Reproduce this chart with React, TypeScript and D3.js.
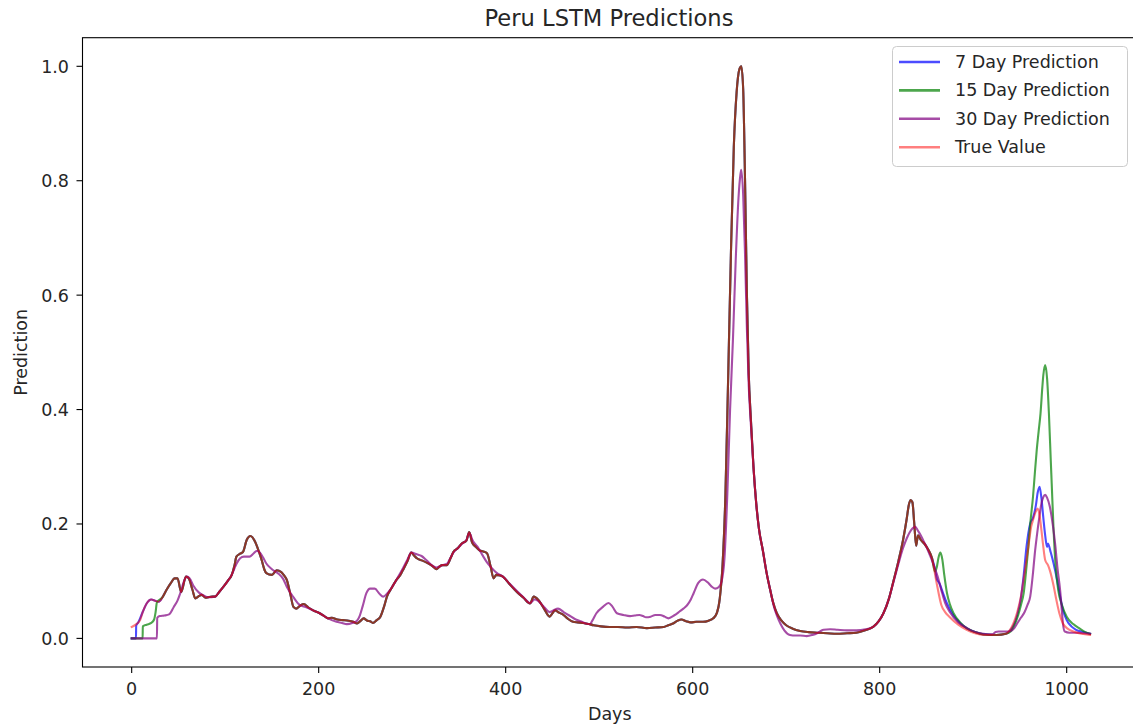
import React from "react";
import * as d3 from "d3";

type Pt = [number, number];

// Stretch of the curve where the true value, 7-day and 15-day predictions coincide
const sharedTrace: Pt[] = [
  [29, 0.064], [33, 0.072], [37, 0.084], [42, 0.097], [46, 0.105], [49, 0.105], [53, 0.081],
  [58, 0.108], [61, 0.105], [65, 0.085], [68, 0.070], [72, 0.074], [75, 0.076], [79, 0.071],
  [82, 0.072], [86, 0.073], [89, 0.073], [94, 0.082], [98, 0.090], [103, 0.101], [107, 0.111],
  [110, 0.128], [112, 0.143], [116, 0.148], [119, 0.151], [123, 0.172], [127, 0.179],
  [132, 0.169], [136, 0.152], [139, 0.137], [142, 0.120], [144, 0.114], [150, 0.111],
  [155, 0.119], [160, 0.116], [163, 0.110], [166, 0.102], [170, 0.075], [173, 0.055],
  [176, 0.052], [180, 0.057], [184, 0.060], [189, 0.054], [194, 0.049], [201, 0.044],
  [206, 0.039], [210, 0.035], [214, 0.036], [220, 0.033], [226, 0.032], [232, 0.031],
  [237, 0.029], [241, 0.026], [245, 0.031], [248, 0.035], [252, 0.031], [255, 0.030],
  [258, 0.027], [262, 0.032], [266, 0.038], [270, 0.056], [273, 0.073], [278, 0.088],
  [283, 0.102], [287, 0.110], [290, 0.119], [295, 0.135], [299, 0.150], [302, 0.145],
  [305, 0.140], [311, 0.136], [317, 0.131], [322, 0.126], [326, 0.121], [329, 0.125],
  [332, 0.128], [337, 0.128], [341, 0.140], [344, 0.151], [349, 0.158], [353, 0.166],
  [358, 0.171], [361, 0.186], [364, 0.168], [368, 0.160], [372, 0.154], [376, 0.152],
  [380, 0.149], [384, 0.125], [387, 0.105], [390, 0.111], [394, 0.110], [397, 0.108],
  [404, 0.095], [412, 0.081], [419, 0.071], [426, 0.061], [430, 0.073], [435, 0.067],
  [441, 0.052], [447, 0.038], [450, 0.044], [453, 0.049], [457, 0.045], [461, 0.042],
  [466, 0.035], [472, 0.029], [477, 0.028], [483, 0.027], [489, 0.025], [494, 0.023],
  [502, 0.021], [511, 0.020], [520, 0.020], [530, 0.019], [540, 0.020], [551, 0.018],
  [560, 0.019], [569, 0.020], [574, 0.023], [579, 0.026], [584, 0.031], [588, 0.033],
  [593, 0.030], [598, 0.028], [604, 0.029], [611, 0.029], [617, 0.031], [622, 0.035],
  [626, 0.045], [629, 0.070], [632, 0.130], [635, 0.250], [638, 0.460], [641, 0.680],
  [644, 0.860], [647, 0.955], [650, 0.995], [652, 1.000], [654, 0.960], [656, 0.800],
  [658, 0.600], [660, 0.460], [662, 0.390], [665, 0.300], [668, 0.235], [671, 0.190],
  [675, 0.154], [679, 0.115], [683, 0.084], [686, 0.063], [690, 0.044], [695, 0.031],
  [700, 0.023], [707, 0.017], [715, 0.013], [724, 0.011], [733, 0.010], [744, 0.009],
  [754, 0.008], [765, 0.009], [775, 0.010], [784, 0.014], [793, 0.020], [799, 0.030],
  [804, 0.044], [810, 0.070], [815, 0.102], [820, 0.135], [825, 0.172], [829, 0.210],
  [831, 0.232], [833, 0.242], [835, 0.238], [837, 0.200], [839, 0.162], [841, 0.180],
  [844, 0.172], [848, 0.165], [852, 0.155], [856, 0.140],
];

const trueHead: Pt[] = [
  [0, 0.020], [5, 0.025], [9, 0.032], [12, 0.047], [16, 0.061], [21, 0.068], [25, 0.066],
];
const trueTail: Pt[] = [
  [861, 0.096], [866, 0.058], [870, 0.046], [875, 0.037], [884, 0.024], [893, 0.015],
  [902, 0.009], [911, 0.006], [925, 0.006], [935, 0.008], [939, 0.014], [943, 0.026],
  [947, 0.045], [951, 0.073], [955, 0.115], [959, 0.160], [962, 0.195], [964, 0.207],
  [967, 0.222], [969, 0.227], [971, 0.215], [973, 0.189], [975, 0.160], [977, 0.137],
  [980, 0.128], [982, 0.119], [986, 0.092], [989, 0.067], [992, 0.045], [996, 0.026],
  [1001, 0.017], [1007, 0.012], [1016, 0.008], [1025, 0.006],
];

const sevenHead: Pt[] = [
  [0, 0], [4.6, 0], [4.8, 0.022], [7, 0.028], [9, 0.035], [12, 0.047], [16, 0.061],
  [21, 0.068], [25, 0.066],
];
const sevenTail: Pt[] = [
  [859, 0.122], [861, 0.104], [864, 0.096], [868, 0.078], [872, 0.061], [879, 0.040],
  [886, 0.027], [893, 0.018], [902, 0.011], [911, 0.007], [925, 0.006], [935, 0.008],
  [939, 0.013], [943, 0.022], [947, 0.040], [951, 0.070], [954, 0.110], [957, 0.160],
  [961, 0.201], [964, 0.211], [967, 0.232], [969, 0.255], [971, 0.265], [973, 0.245],
  [975, 0.211], [977, 0.180], [979, 0.160], [980, 0.166], [983, 0.150], [986, 0.131],
  [990, 0.100], [993, 0.073], [996, 0.050], [1000, 0.032], [1005, 0.021], [1010, 0.015],
  [1018, 0.011], [1025, 0.008],
];

const fifteenHead: Pt[] = [
  [0, 0], [11.7, 0], [11.9, 0.021], [16, 0.024], [21, 0.027], [24, 0.033], [25.5, 0.045],
  [27, 0.063],
];
const fifteenTail: Pt[] = [
  [859, 0.117], [861, 0.124], [863, 0.142], [865, 0.150], [867, 0.138], [869, 0.112],
  [872, 0.079], [875, 0.060], [879, 0.044], [886, 0.028], [893, 0.018], [902, 0.011],
  [911, 0.007], [925, 0.006], [935, 0.008], [940, 0.012], [943, 0.020], [948, 0.040],
  [951, 0.058], [954, 0.079], [957, 0.125], [959, 0.160], [961, 0.200], [964, 0.248],
  [966, 0.290], [968, 0.330], [970, 0.362], [972, 0.393], [974, 0.440], [975, 0.460],
  [977, 0.478], [979, 0.455], [981, 0.393], [983, 0.310], [984, 0.270], [986, 0.189],
  [988, 0.130], [991, 0.084], [995, 0.058], [1000, 0.038], [1007, 0.025], [1014, 0.017],
  [1020, 0.011], [1025, 0.008],
];

const thirtyDay: Pt[] = [
  [0, 0], [27, 0], [27.3, 0.036], [30, 0.039], [35, 0.040], [40, 0.042], [45, 0.055],
  [49, 0.066], [52, 0.079], [56, 0.100], [59, 0.108], [62, 0.105], [66, 0.092], [72, 0.080],
  [77, 0.075], [82, 0.072], [89, 0.073], [94, 0.082], [98, 0.090], [103, 0.101], [107, 0.111],
  [112, 0.130], [116, 0.140], [120, 0.143], [126, 0.143], [130, 0.148], [134, 0.153],
  [137, 0.150], [141, 0.140], [144, 0.131], [150, 0.121], [157, 0.113], [162, 0.104],
  [166, 0.090], [173, 0.072], [180, 0.058], [186, 0.055], [194, 0.049], [201, 0.044],
  [210, 0.035], [219, 0.029], [225, 0.027], [230, 0.025], [236, 0.027], [241, 0.031],
  [244, 0.040], [247, 0.056], [251, 0.079], [255, 0.087], [260, 0.087], [265, 0.078],
  [269, 0.073], [273, 0.078], [276, 0.084], [283, 0.102], [290, 0.122], [295, 0.138],
  [299, 0.150], [305, 0.147], [310, 0.144], [315, 0.137], [321, 0.128], [326, 0.124],
  [332, 0.128], [337, 0.130], [341, 0.141], [344, 0.150], [349, 0.158], [353, 0.165],
  [358, 0.172], [361, 0.184], [365, 0.170], [370, 0.160], [375, 0.146], [380, 0.133],
  [384, 0.125], [390, 0.115], [397, 0.108], [404, 0.096], [412, 0.083], [419, 0.072],
  [426, 0.062], [431, 0.068], [435, 0.065], [441, 0.055], [447, 0.046], [451, 0.049],
  [456, 0.052], [462, 0.046], [468, 0.040], [474, 0.034], [480, 0.030], [486, 0.026],
  [490, 0.025], [493, 0.032], [497, 0.044], [504, 0.055], [510, 0.062], [514, 0.056],
  [519, 0.044], [526, 0.041], [533, 0.039], [538, 0.040], [543, 0.041], [547, 0.039],
  [550, 0.037], [555, 0.038], [560, 0.041], [565, 0.041], [570, 0.038], [574, 0.035],
  [580, 0.040], [586, 0.047], [590, 0.052], [594, 0.058], [598, 0.068], [601, 0.079],
  [606, 0.097], [611, 0.103], [616, 0.098], [620, 0.091], [624, 0.087], [628, 0.090],
  [631, 0.100], [634, 0.140], [637, 0.250], [640, 0.400], [643, 0.520], [646, 0.660],
  [649, 0.770], [651, 0.810], [652, 0.819], [654, 0.775], [656, 0.670], [658, 0.540],
  [660, 0.440], [662, 0.380], [665, 0.300], [668, 0.235], [671, 0.190], [675, 0.154],
  [679, 0.115], [683, 0.084], [687, 0.055], [690, 0.040], [694, 0.025], [698, 0.014],
  [704, 0.006], [710, 0.005], [715, 0.005], [722, 0.004], [728, 0.006], [733, 0.009],
  [737, 0.013], [740, 0.015], [747, 0.016], [755, 0.015], [765, 0.014], [775, 0.014],
  [785, 0.016], [793, 0.020], [799, 0.030], [804, 0.044], [810, 0.070], [815, 0.100],
  [820, 0.130], [825, 0.158], [829, 0.175], [832, 0.185], [835, 0.192], [838, 0.195],
  [841, 0.188], [844, 0.180], [847, 0.170], [850, 0.160], [853, 0.148], [856, 0.136],
  [859, 0.122], [862, 0.108], [866, 0.084], [870, 0.062], [875, 0.046],
  [884, 0.028], [893, 0.018], [902, 0.011], [911, 0.008], [920, 0.007], [924, 0.011],
  [927, 0.012], [936, 0.012], [940, 0.013], [944, 0.018], [947, 0.026], [951, 0.036],
  [955, 0.046], [958, 0.058], [961, 0.073], [964, 0.115], [966, 0.150], [968, 0.178],
  [971, 0.215], [973, 0.236], [975, 0.247], [977, 0.251], [979, 0.246], [982, 0.230],
  [985, 0.200], [988, 0.160], [990, 0.125], [993, 0.084], [995, 0.045], [996, 0.026],
  [998, 0.012], [1003, 0.010], [1010, 0.010], [1018, 0.009], [1025, 0.008],
];

const trueValue: Pt[] = [...trueHead, ...sharedTrace, ...trueTail];
const sevenDay: Pt[] = [...sevenHead, ...sharedTrace, ...sevenTail];
const fifteenDay: Pt[] = [...fifteenHead, ...sharedTrace.slice(1), ...fifteenTail];

const seriesNames = ["7 Day Prediction", "15 Day Prediction", "30 Day Prediction", "True Value"];
const seriesData: Pt[][] = [sevenDay, fifteenDay, thirtyDay, trueValue];
const seriesColors = ["blue", "green", "purple", "red"];
const seriesAlpha = [0.7, 0.7, 0.7, 0.5];

const xTicks = [0, 200, 400, 600, 800, 1000];
const yTicks = [0, 0.2, 0.4, 0.6, 0.8, 1.0];

const W = 1133;
const H = 727;
const plot = { left: 82.5, right: 1137, top: 37.7, bottom: 667 };
const FONT = "'DejaVu Sans', sans-serif";

export default function App() {
  const x = d3.scaleLinear().domain([-52.6, 1075.2]).range([plot.left, plot.right]);
  const y = d3.scaleLinear().domain([-0.05, 1.05]).range([plot.bottom, plot.top]);
  const line = d3
    .line<Pt>()
    .x((d) => x(d[0]))
    .y((d) => y(d[1]))
    .curve(d3.curveMonotoneX);
  const fmt = d3.format(".1f");

  const legend = { x: 892.5, y: 46.5, w: 235, h: 120 };

  return (
    <svg
      width={W}
      height={H}
      style={{ position: "absolute", left: 0, top: 0, background: "white" }}
      fontFamily={FONT}
    >
      <defs>
        <clipPath id="plot-area">
          <rect x={plot.left} y={plot.top} width={plot.right - plot.left} height={plot.bottom - plot.top} />
        </clipPath>
      </defs>
      <rect x={0} y={0} width={W} height={H} fill="white" />

      <g clipPath="url(#plot-area)">
        {seriesData.map((data, i) => (
          <path
            key={seriesNames[i]}
            d={line(data) || ""}
            fill="none"
            stroke={seriesColors[i]}
            strokeOpacity={seriesAlpha[i]}
            strokeWidth={2.1}
            strokeLinejoin="round"
            strokeLinecap="square"
          />
        ))}
      </g>

      {/* axes frame */}
      <rect
        x={plot.left}
        y={plot.top}
        width={plot.right - plot.left}
        height={plot.bottom - plot.top}
        fill="none"
        stroke="black"
        strokeWidth={1.1}
      />

      {/* x axis */}
      {xTicks.map((t) => (
        <g key={`x${t}`}>
          <line x1={x(t)} x2={x(t)} y1={plot.bottom} y2={plot.bottom + 6} stroke="black" strokeWidth={1.1} />
          <text x={x(t)} y={695} textAnchor="middle" fontSize={17.5} fill="#262626">
            {t}
          </text>
        </g>
      ))}
      <text x={(plot.left + 1137) / 2} y={720} textAnchor="middle" fontSize={17.5} fill="#262626">
        Days
      </text>

      {/* y axis */}
      {yTicks.map((t) => (
        <g key={`y${t}`}>
          <line x1={plot.left - 6} x2={plot.left} y1={y(t)} y2={y(t)} stroke="black" strokeWidth={1.1} />
          <text x={69} y={y(t) + 6.5} textAnchor="end" fontSize={17.5} fill="#262626">
            {fmt(t)}
          </text>
        </g>
      ))}
      <text
        transform={`translate(27, ${(plot.top + plot.bottom) / 2}) rotate(-90)`}
        textAnchor="middle"
        fontSize={17.5}
        fill="#262626"
      >
        Prediction
      </text>

      {/* title */}
      <text x={609} y={26} textAnchor="middle" fontSize={22.6} fill="#262626">
        Peru LSTM Predictions
      </text>

      {/* legend */}
      <rect
        x={legend.x}
        y={legend.y}
        width={legend.w}
        height={legend.h}
        rx={4}
        fill="white"
        fillOpacity={0.8}
        stroke="#cccccc"
        strokeWidth={1}
      />
      {seriesNames.map((name, i) => {
        const cy = 62 + i * 28.4;
        return (
          <g key={`lg${name}`}>
            <line
              x1={899}
              x2={940}
              y1={cy}
              y2={cy}
              stroke={seriesColors[i]}
              strokeOpacity={seriesAlpha[i]}
              strokeWidth={2.6}
            />
            <text x={955} y={cy + 6} fontSize={17.5} fill="#262626">
              {name}
            </text>
          </g>
        );
      })}
    </svg>
  );
}
